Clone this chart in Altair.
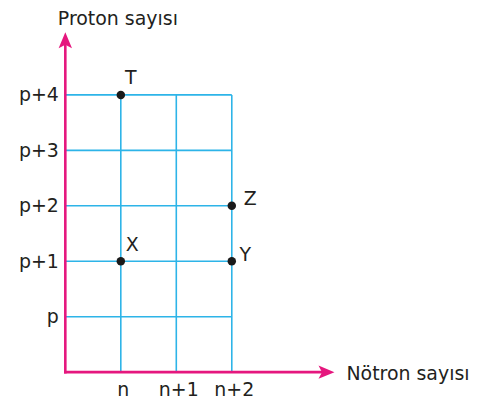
import json
import altair as alt
import pandas as pd

# ---- data ----
x_ticks = [1, 2, 3]
x_labels = ["n", "n+1", "n+2"]
y_ticks = [1, 2, 3, 4, 5]
y_labels = ["p", "p+1", "p+2", "p+3", "p+4"]

point_names = ["T", "X", "Y", "Z"]
point_x = [1, 1, 3, 3]
point_y = [5, 2, 2, 3]

x_title = "Nötron sayısı"
y_title = "Proton sayısı"

# ---- styling ----
FONT = "DejaVu Sans"
FS = 19
TEXT = "#231F20"
MAGENTA = "#E5177E"
BLUE = "#2DB4E8"
X_MAX, Y_MAX = 4.85, 6.13          # arrow tips (scale extent)
label_offsets = {"T": (10, -17), "X": (11.5, -16.5), "Y": (13.5, -6), "Z": (18.5, -7)}

xs = alt.Scale(domain=[0, X_MAX], nice=False, zero=False)
ys = alt.Scale(domain=[0, Y_MAX], nice=False, zero=False)

x_axis = alt.Axis(
    values=x_ticks,
    labelExpr=json.dumps(x_labels) + "[datum.value - 1]",
    domain=False, ticks=False, grid=False,
    labelFont=FONT, labelFontSize=FS, labelColor=TEXT, labelPadding=8,
    labelAlign="center", labelOffset=2,
    title=x_title, titleFont=FONT, titleFontSize=FS, titleFontWeight="normal",
    titleColor=TEXT, titleAngle=0, titleAlign="left", titleBaseline="middle",
    titleX=281.5, titleY=1,
)
y_axis = alt.Axis(
    values=y_ticks,
    labelExpr=json.dumps(y_labels) + "[datum.value - 1]",
    domain=False, ticks=False, grid=False,
    labelFont=FONT, labelFontSize=FS, labelColor=TEXT, labelPadding=7,
    title=y_title, titleFont=FONT, titleFontSize=FS, titleFontWeight="normal",
    titleColor=TEXT, titleAngle=0, titleAlign="left", titleBaseline="middle",
    titleX=-8, titleY=-14,
)


def X(field="x"):
    return alt.X(f"{field}:Q", scale=xs, axis=x_axis)


def Y(field="y"):
    return alt.Y(f"{field}:Q", scale=ys, axis=y_axis)


# grid segments
vgrid = pd.DataFrame({"x": x_ticks, "y": [0] * len(x_ticks), "y2": [max(y_ticks)] * len(x_ticks)})
hgrid = pd.DataFrame({"y": y_ticks, "x": [0] * len(y_ticks), "x2": [max(x_ticks)] * len(y_ticks)})

v_layer = alt.Chart(vgrid).mark_rule(color=BLUE, strokeWidth=1.6).encode(
    x=X(), y=Y(), y2="y2:Q")
h_layer = alt.Chart(hgrid).mark_rule(color=BLUE, strokeWidth=1.6).encode(
    y=Y(), x=X(), x2="x2:Q")

# axes lines with arrows
xaxis_df = pd.DataFrame({"x": [0], "x2": [X_MAX - 0.15], "y": [0]})
yaxis_df = pd.DataFrame({"x": [0], "y": [0], "y2": [Y_MAX - 0.15]})
xa = alt.Chart(xaxis_df).mark_rule(color=MAGENTA, strokeWidth=2.6, strokeCap="square").encode(
    x=X(), x2="x2:Q", y=Y())
ya = alt.Chart(yaxis_df).mark_rule(color=MAGENTA, strokeWidth=2.6, strokeCap="square").encode(
    x=X(), y=Y(), y2="y2:Q")

arrow_r = alt.Chart(pd.DataFrame({"x": [X_MAX], "y": [0]})).mark_point(
    shape="M0,0 L-1,-0.42 L-0.78,0 L-1,0.42 Z", size=1024, filled=True,
    color=MAGENTA, opacity=1, strokeWidth=0, clip=False).encode(x=X(), y=Y())
arrow_u = alt.Chart(pd.DataFrame({"x": [0], "y": [Y_MAX]})).mark_point(
    shape="M0,0 L0.42,1 L0,0.78 L-0.42,1 Z", size=1024, filled=True,
    color=MAGENTA, opacity=1, strokeWidth=0, clip=False).encode(x=X(), y=Y())

pts = pd.DataFrame({"name": point_names, "x": point_x, "y": point_y})
dots = alt.Chart(pts).mark_circle(size=72, color="#1A1A1A", opacity=1).encode(x=X(), y=Y())

labels = []
for nm in point_names:
    dx, dy = label_offsets[nm]
    labels.append(
        alt.Chart(pts).transform_filter(alt.datum.name == nm).mark_text(
            font=FONT, fontSize=FS, color=TEXT, dx=dx, dy=dy,
            align="center", baseline="middle").encode(x=X(), y=Y(), text="name:N")
    )

chart = alt.layer(v_layer, h_layer, xa, ya, arrow_r, arrow_u, dots, *labels).properties(
    width=270, height=341,
    padding={"left": 57.5, "top": 23.7, "right": 140, "bottom": 30},
    autosize=alt.AutoSizeParams(type="none"),
    background="white",
).configure_view(stroke=None)

chart.save("out.html", embed_options={"renderer": "svg", "actions": False})
